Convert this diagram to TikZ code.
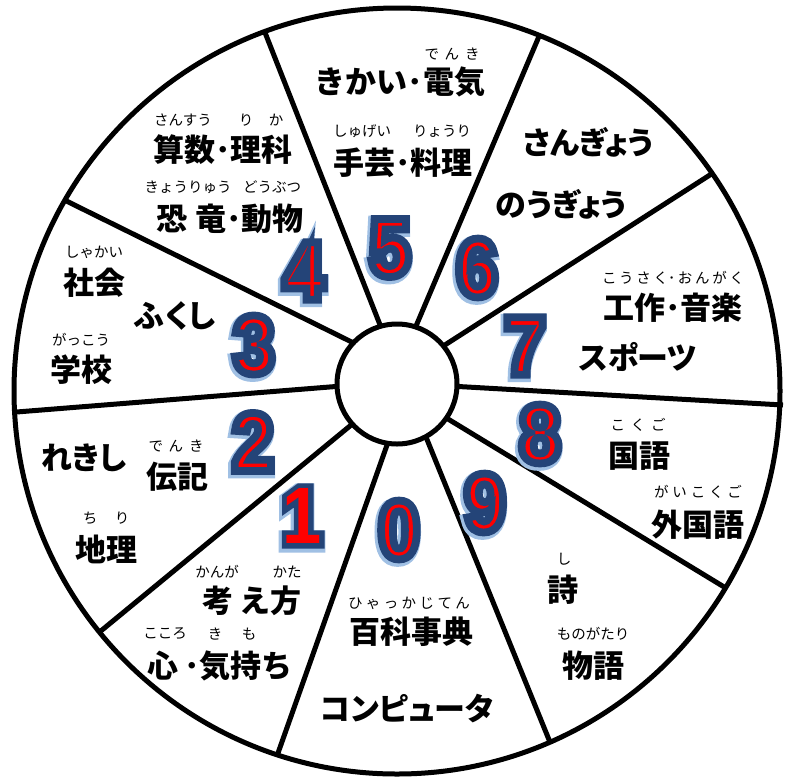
\documentclass[tikz,border=0pt]{standalone}
\usepackage{fontspec}
\usetikzlibrary{calc}
\newfontfamily\jp{Noto Sans CJK JP}
\newfontfamily\jpp{Noto Sans CJK JP}[RawFeature=+palt]
\newfontfamily\dig{Liberation Sans}[FakeStretch=0.88]
\definecolor{navyc}{RGB}{36,68,120}
\definecolor{glowc}{RGB}{160,192,228}
\definecolor{redc}{RGB}{255,0,0}
\newcommand\spr[2]{\makebox[#1][s]{#2}}
\newcommand\trm[2]{\special{pdf:literal direct #1 Tr #2 w}}
\tikzset{
 lbl/.style={font=\jp\bfseries\fontsize{31}{31}\selectfont, inner sep=0pt},
 lblp/.style={font=\jpp\bfseries\fontsize{31}{31}\selectfont, inner sep=0pt},
 rb/.style={font=\jp\fontsize{14.5}{15}\selectfont, inner sep=0pt},
 num/.style={font=\dig\bfseries\fontsize{80}{80}\selectfont, inner sep=0pt},
 spoke/.style={line width=5pt},
}
\newcommand\bignum[3]{%
 \node[num,text=glowc] at ($(#2)+(-1.2,2)$) {\trm{1}{13}#3\trm{0}{1}};
 \node[num,text=navyc] at (#2) {\trm{1}{10}#3\trm{0}{1}};
 \node[num,text=redc] (#1) at (#2) {#3};
 \node[num,text=navyc] at (#2) {\trm{1}{5.5}#3\trm{0}{1}};}
\newcommand\bignumF[3]{%
 \node[num,text=glowc] at ($(#2)+(-1.2,2)$) {\trm{1}{14}#3\trm{0}{1}};
 \node[num,text=navyc] at (#2) {\trm{1}{10}#3\trm{0}{1}};
 \node[num,text=redc] (#1) at (#2) {#3};}
\begin{document}
\begin{tikzpicture}[x=1pt,y=-1pt]
\fill[white] (0,0) rectangle (792,780);
\useasboundingbox (0,0) rectangle (792,780);
\coordinate (O) at (397,391);
\coordinate (C) at (397,384);
% spoke ends
\coordinate (o45) at (264,30);    \coordinate (i45) at (391.5,354);
\coordinate (o56) at (540,34);    \coordinate (i56) at (405,352);
\coordinate (o67) at (712.5,173.3); \coordinate (i67) at (423,359);
\coordinate (o78) at (783,405);   \coordinate (i78) at (432,385);
\coordinate (o89) at (726.6,588.5); \coordinate (i89) at (425,405);
\coordinate (o90) at (550.2,742.7); \coordinate (i90) at (415,410);
\coordinate (o01) at (277,755.9); \coordinate (i01) at (398,414);
\coordinate (o12) at (99.7,631.9); \coordinate (i12) at (373,407);
\coordinate (o23) at (14,412.2);  \coordinate (i23) at (367,384);
\coordinate (o34) at (65.4,200.5); \coordinate (i34) at (380,356);
\foreach \s in {45,56,67,78,89,90,01,12,23,34}
  \draw[spoke] (i\s) -- (o\s);
\draw[line width=5pt, fill=white] (C) circle[radius=60];
\draw[line width=5pt] (O) circle[radius=383];

% segment 5
\node[rb] (r5a) at (452,54) {\spr{55pt}{で\hfill ん\hfill き}};
\node[lbl] (t5a) at (400,82) {きかい･電気};
\node[rb] (r5b) at (362,131) {しゅげい};
\node[rb] (r5c) at (442,131) {りょうり};
\node[lbl] (t5b) at (403,163) {手芸･料理};
% segment 4
\node[rb] (r4a) at (183,120) {さんすう};
\node[rb] (r4b) at (246,120) {り};
\node[rb] (r4c) at (276,120) {か};
\node[lbl] (t4a) at (223,150) {算数･理科};
\node[rb] (r4d) at (188,187) {きょうりゅう};
\node[rb] (r4e) at (272,187) {どうぶつ};
\node[lbl] (t4b) at (230,219) {恐\hspace{8pt}竜･動物};
% segment 3
\node[rb] (r3a) at (94,252) {しゃかい};
\node[lbl] (t3a) at (94,283) {社会};
\node[lblp] (t3b) at (175,316) {ふくし};
\node[rb] (r3b) at (81,340) {がっこう};
\node[lbl] (t3c) at (81,370) {学校};
% segment 2
\node[lblp] (t2a) at (84,458) {れきし};
\node[rb] (r2a) at (176,446) {\spr{55pt}{で\hfill ん\hfill き}};
\node[lbl] (t2b) at (177,477) {伝記};
\node[rb] (r2b) at (90,518) {ち};
\node[rb] (r2c) at (122,518) {り};
\node[lbl] (t2c) at (106,549) {地理};
% segment 1
\node[rb] (r1a) at (217,572) {かんが};
\node[rb] (r1b) at (287,572) {かた};
\node[lbl] (t1a) at (252,601) {考\hspace{6pt}え方};
\node[rb] (r1c) at (165,634) {こころ};
\node[rb] (r1d) at (215,634) {き};
\node[rb] (r1e) at (249,634) {も};
\node[lbl] (t1b) at (220,666) {心\hspace{6pt}･気持ち};
% segment 0
\node[rb] (r0a) at (409,603) {\spr{122pt}{ひ\hfill ゃ\hfill っ\hfill か\hfill じ\hfill て\hfill ん}};
\node[lbl] (t0a) at (411,632) {百科事典};
\node[lblp] (t0b) at (407,709) {コンピュータ};
% segment 9
\node[rb] (r9a) at (564,559) {し};
\node[lbl] (t9a) at (563,590) {詩};
\node[rb] (r9b) at (593,634) {ものがたり};
\node[lbl] (t9b) at (593,666) {物語};
% segment 8
\node[rb] (r8a) at (638,425) {\spr{55pt}{こ\hfill く\hfill ご}};
\node[lbl] (t8a) at (639,456) {国語};
\node[rb] (r8b) at (698,492) {\spr{88pt}{が\hfill い\hfill こ\hfill く\hfill ご}};
\node[lbl] (t8b) at (698,525) {外国語};
% segment 7
\node[rb] (r7a) at (673,278) {\spr{142pt}{こ\hfill う\hfill さ\hfill く･\hfill お\hfill ん\hfill が\hfill く}};
\node[lbl] (t7a) at (673,308) {工作･音楽};
\node[lblp] (t7b) at (638,357) {スポーツ};
% segment 6
\node[lblp] (t6a) at (588,142) {さんぎょう};
\node[lblp] (t6b) at (561,204) {のうぎょう};

% big numbers
\bignumF{n1}{302,516}{1}
\bignum{n2}{253,442}{2}
\bignum{n3}{254,345}{3}
\bignum{n4}{304,271}{4}
\bignum{n5}{390,248}{5}
\bignum{n6}{477,268}{6}
\bignum{n7}{525,346}{7}
\bignum{n8}{540,434}{8}
\bignum{n9}{485,503}{9}
\bignum{n0}{399,530}{0}
\end{tikzpicture}
\end{document}
